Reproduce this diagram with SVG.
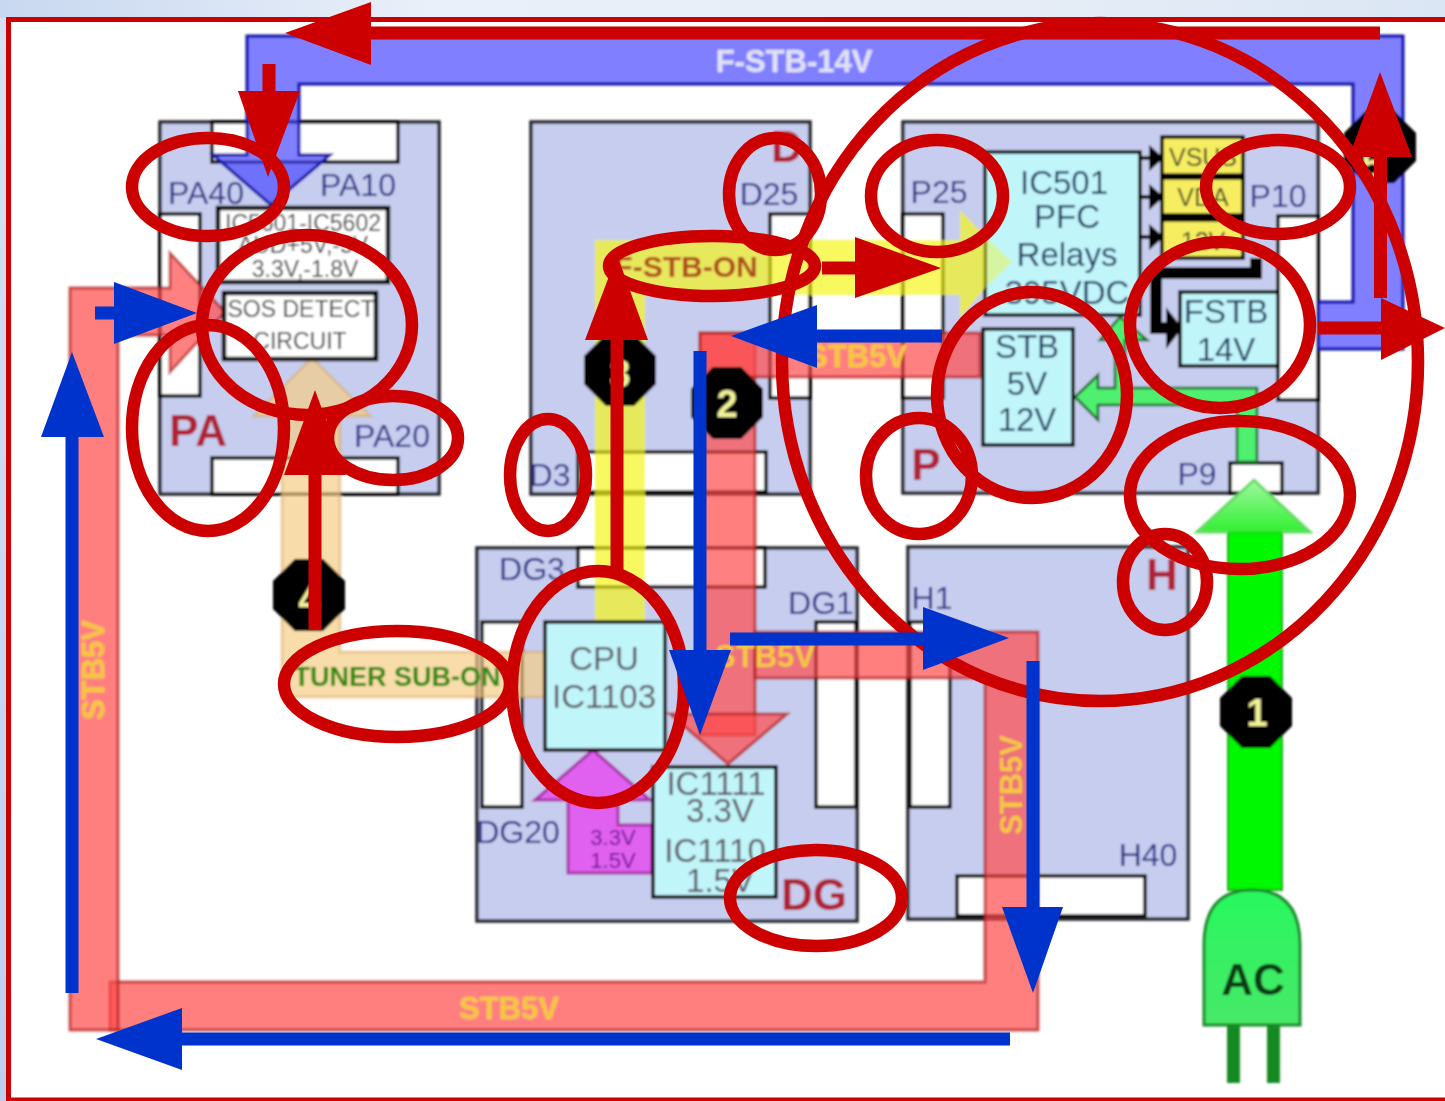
<svg xmlns="http://www.w3.org/2000/svg" width="1445" height="1101" viewBox="0 0 1445 1101">
<defs>
<linearGradient id="sky" x1="0" y1="0" x2="1" y2="0"><stop offset="0" stop-color="#c8d8f0"/><stop offset=".3" stop-color="#eaf0f9"/><stop offset=".7" stop-color="#e6edf7"/><stop offset="1" stop-color="#dbe6f4"/></linearGradient>
<linearGradient id="side" x1="0" y1="0" x2="0" y2="1"><stop offset="0" stop-color="#d6e2f3"/><stop offset="1" stop-color="#bcd0ee"/></linearGradient>
<linearGradient id="headg" x1="0" y1="0" x2="0" y2="1"><stop offset="0" stop-color="#a0f8a0"/><stop offset="1" stop-color="#30f030"/></linearGradient>
<linearGradient id="plug" x1="0" y1="0" x2="0" y2="1"><stop offset="0" stop-color="#28f860"/><stop offset="1" stop-color="#48e868"/></linearGradient>
<filter id="soft" x="-2%" y="-2%" width="104%" height="104%"><feGaussianBlur stdDeviation="0.8"/></filter>
</defs>
<style>
text{font-family:"Liberation Sans",Arial,sans-serif;text-anchor:middle}
.board{fill:#c6cdee;stroke:#26262e;stroke-width:3.5}
.slot{fill:#fff;stroke:#000;stroke-width:3.5}
.ic{fill:#c0f5fa;stroke:#000;stroke-width:3.5}
.wht{fill:#fff;stroke:#000;stroke-width:4.5}
.yc{fill:#f6ee60;stroke:#000;stroke-width:3.5}
.lb{font-size:32px;fill:#2e3288}
.big{font-size:44px;font-weight:700;fill:#b02036}
.t{font-size:33px;fill:#1f3c60}
.g{font-size:33px;fill:#5e5660}
.s{font-size:33px;fill:#5e5660}
.w{font-size:23px;fill:#333}
.flow{fill:#ff4a4a;fill-opacity:.7;stroke:#b02020;stroke-width:3;stroke-opacity:.7}
.fl{font-size:31px;font-weight:700;fill:#f5c840}
.yel{fill:#f5f51c;fill-opacity:.7}
.oct{fill:#000}
.num{font-size:38px;font-weight:700;fill:#f2f29a}
.ell{fill:none;stroke:#cc0000;stroke-width:12.5}
.rl{stroke:#cc0000;fill:none}
.rh{fill:#cc0000}
.bl{stroke:#0033cc;fill:none}
.bh{fill:#0033cc}
</style>
<rect width="1445" height="1101" fill="url(#side)"/>
<rect width="1445" height="18" fill="url(#sky)"/>
<rect x="11" y="22" width="1434" height="1077" fill="#fff"/>
<path d="M1445 19.5H8.5V1100H1445" fill="none" stroke="#cc0000" stroke-width="5"/>

<g id="base" filter="url(#soft)">
<g id="board-PA">
<rect class="board" x="160" y="122" width="279" height="372"/>
<rect class="slot" x="212" y="122" width="186" height="40"/>
<rect class="slot" x="160" y="214" width="40" height="182"/>
<rect class="slot" x="212" y="458" width="186" height="36"/>
</g>
<g id="board-D">
<rect class="board" x="531" y="122" width="279" height="372"/>
<rect class="slot" x="770" y="214" width="40" height="184"/>
<rect class="slot" x="578" y="452" width="188" height="40"/>
</g>
<g id="board-P">
<rect class="board" x="903" y="122" width="415" height="371"/>
<rect class="slot" x="903" y="214" width="40" height="184"/>
<rect class="slot" x="1278" y="216" width="40" height="184"/>
<rect class="slot" x="1230" y="463" width="52" height="30"/>
</g>
<g id="board-DG">
<rect class="board" x="477" y="548" width="380" height="373"/>
<rect class="slot" x="578" y="548" width="187" height="39"/>
<rect class="slot" x="482" y="622" width="40" height="185"/>
<rect class="slot" x="816" y="622" width="40" height="185"/>
</g>
<g id="board-H">
<rect class="board" x="908" y="547" width="280" height="372"/>
<rect class="slot" x="910" y="622" width="40" height="185"/>
<rect class="slot" x="957" y="876" width="188" height="40"/>
</g>
<g id="node-ic501">
<rect class="ic" x="985" y="152" width="155" height="163"/>
<text class="t" x="1064" y="194">IC501</text>
<text class="t" x="1067" y="228">PFC</text>
<text class="t" x="1067" y="266">Relays</text>
<text class="t" x="1067" y="304">395VDC</text>
</g>

<g id="connectors">
<path d="M247 36H1403V349H1318V302H1353V84H299V155H330L271 205L213 155H247Z" fill="#4a4aff" fill-opacity=".7" stroke="#1414a8" stroke-width="3"/>
<path class="yel" d="M595 240H960V210L985 236V288L960 318V295H645V622H595Z"/>
<path d="M985 236L1012 262L985 288Z" fill="#f5f51c" fill-opacity=".4"/>
<path d="M312 358L370 416H340V652H545V697H282V416H254Z" fill="#f5cd86" fill-opacity=".7" stroke="#d8a868" stroke-opacity=".5" stroke-width="3"/>
<path class="flow" d="M700 333H755V735H700Z"/>
<path class="flow" d="M700 333H980V377H700Z"/>
<path class="flow" d="M670 714H787L728 764Z"/>
<path class="flow" d="M755 632H1038V1030H110V982H985V678H755Z"/>
<path class="flow" d="M70 288H170V253L225 312L170 372V335H118V1030H70Z"/>
<path d="M568 800H535L593 750L650 800H618V825H652V873H568Z" fill="#e060f0" stroke="#a838a8" stroke-width="3"/>
<path d="M1228 890V532H1282V890Z" fill="#00f800" stroke="#14b414" stroke-width="2"/>
<path d="M1228 532H1197L1254 480L1310 532H1282" fill="url(#headg)" stroke="#64dc64" stroke-width="3"/>
<path d="M1237 462V405H1098V420L1075 397L1098 375V388H1115V340H1100L1120 317L1147 340H1125V388H1257V462Z" fill="#50f070" stroke="#1a6a2a" stroke-width="2.5"/>
<path d="M1204 1025V945Q1204 890 1252 890Q1300 890 1300 945V1025Z" fill="url(#plug)" stroke="#1d8a2a" stroke-width="3"/>
<path d="M1233.5 1025V1083M1273.5 1025V1083" stroke="#158a22" stroke-width="13" fill="none"/>
<path d="M1256 258V273H1156V328H1170" stroke="#000" stroke-width="12" fill="none"/>
<path d="M1167 310L1181 328L1167 346Z" fill="#000" stroke="#000" stroke-width="2"/>
<path d="M1140 158H1156M1140 197H1156M1140 237H1156" stroke="#000" stroke-width="4"/>
<path d="M1150 147V169L1162 158ZM1150 186V208L1162 197ZM1150 226V248L1162 237Z" fill="#000" stroke="#000" stroke-width="2"/>
</g>

<g id="node-ic5601">
<rect class="wht" x="218" y="208" width="170" height="74"/>
<text class="w" x="303" y="231">IC5601-IC5602</text>
<text class="w" x="303" y="253">AUD+5V,-5V</text>
<text class="w" x="305" y="277">3.3V,-1.8V</text>
</g>
<g id="node-sos">
<rect class="wht" x="224" y="293" width="152" height="66"/>
<text class="w" x="301" y="317">SOS DETECT</text>
<text class="w" x="300" y="349">CIRCUIT</text>
</g>
<g id="node-rails">
<rect x="1160" y="135" width="85" height="125" fill="#000"/>
<rect class="yc" x="1162" y="137" width="81" height="38"/>
<rect class="yc" x="1162" y="178" width="81" height="37"/>
<rect class="yc" x="1162" y="220" width="81" height="38"/>
<text x="1203" y="166" font-size="25" fill="#44442c">VSUS</text>
<text x="1203" y="206" font-size="25" fill="#44442c">VDA</text>
<text x="1203" y="250" font-size="25" fill="#44442c">12V</text>
</g>
<g id="node-fstb">
<rect class="ic" x="1180" y="292" width="98" height="74"/>
<text class="t" x="1226" y="323">FSTB</text>
<text class="t" x="1226" y="361">14V</text>
</g>
<g id="node-stb">
<rect class="ic" x="983" y="329" width="90" height="116"/>
<text class="t" x="1027" y="358">STB</text>
<text class="t" x="1027" y="395">5V</text>
<text class="t" x="1027" y="431">12V</text>
</g>
<g id="node-cpu">
<rect class="ic" x="545" y="622" width="120" height="128"/>
<text class="g" x="604" y="670">CPU</text>
<text class="g" x="604" y="708">IC1103</text>
</g>
<g id="node-ic1111">
<rect class="ic" x="653" y="767" width="123" height="130"/>
<text class="s" x="716" y="795">IC1111</text>
<text class="s" x="720" y="822">3.3V</text>
<text class="s" x="715" y="862">IC1110</text>
<text class="s" x="720" y="892">1.5V</text>
</g>

<g id="labels">
<text class="lb" x="206" y="204">PA40</text>
<text class="lb" x="358" y="196">PA10</text>
<text class="lb" x="392" y="447">PA20</text>
<text class="big" x="198" y="446">PA</text>
<text class="lb" x="769" y="205">D25</text>
<text class="big" x="787" y="162">D</text>
<text class="lb" x="550" y="486" font-size="30">D3</text>
<text class="lb" x="939" y="203">P25</text>
<text class="lb" x="1278" y="207">P10</text>
<text class="lb" x="1197" y="485" font-size="30">P9</text>
<text class="big" x="926" y="480">P</text>
<text class="lb" x="532" y="580">DG3</text>
<text class="lb" x="821" y="614">DG1</text>
<text class="lb" x="518" y="843">DG20</text>
<text class="big" x="814" y="910">DG</text>
<text class="lb" x="932" y="609">H1</text>
<text class="lb" x="1148" y="866" font-size="30">H40</text>
<text class="big" x="1162" y="590">H</text>
<text x="794" y="72" font-size="31" font-weight="700" fill="#e2e2f4">F-STB-14V</text>
<text x="686" y="277" font-size="30" font-weight="700" fill="#b0481c">F-STB-ON</text>
<text class="fl" x="857" y="367">STB5V</text>
<text class="fl" x="765" y="667">STB5V</text>
<text class="fl" x="509" y="1019">STB5V</text>
<text class="fl" transform="translate(104 670) rotate(-90)">STB5V</text>
<text class="fl" transform="translate(1022 785) rotate(-90)">STB5V</text>
<text x="397" y="686" font-size="27" font-weight="700" fill="#2e8a10">TUNER SUB-ON</text>
<text x="613" y="845" font-size="22" fill="#701090">3.3V</text>
<text x="613" y="868" font-size="22" fill="#701090">1.5V</text>
<text x="1253" y="995" font-size="44" font-weight="700" fill="#0b3b12">AC</text>
</g>

<g id="markers">
<path class="oct" d="M1242 676H1270L1292 698V726L1270 748H1242L1220 726V698Z"/><text class="num" x="1257" y="726">1</text>
<path class="oct" d="M713 367H741L763 389V417L741 439H713L691 417V389Z"/><text class="num" x="727" y="417">2</text>
<path class="oct" d="M606 334H634L656 356V384L634 406H606L584 384V356Z"/><text class="num" x="620" y="387">3</text>
<path class="oct" d="M295 559H323L345 581V609L323 631H295L273 609V581Z"/><text class="num" x="309" y="612">4</text>
<path class="oct" d="M1366 111H1394L1416 133V161L1394 183H1366L1344 161V133Z"/><text class="num" x="1372" y="178">5</text>
</g>
</g>

<g id="callouts">
<ellipse class="ell" cx="1100" cy="362" rx="318" ry="339"/>
<ellipse class="ell" cx="208" cy="187" rx="76" ry="49"/>
<ellipse class="ell" cx="307" cy="325" rx="105" ry="90"/>
<ellipse class="ell" cx="208" cy="428" rx="76" ry="103"/>
<ellipse class="ell" cx="393" cy="438" rx="65" ry="42"/>
<ellipse class="ell" cx="775" cy="194" rx="46" ry="56"/>
<ellipse class="ell" cx="712" cy="266" rx="103" ry="30"/>
<ellipse class="ell" cx="937" cy="196" rx="66" ry="56"/>
<ellipse class="ell" cx="1278" cy="187" rx="72" ry="47"/>
<ellipse class="ell" cx="1220" cy="325" rx="90" ry="83"/>
<ellipse class="ell" cx="1032" cy="395" rx="95" ry="103"/>
<ellipse class="ell" cx="919" cy="476" rx="53" ry="58"/>
<ellipse class="ell" cx="1240" cy="495" rx="110" ry="74"/>
<ellipse class="ell" cx="1165" cy="582" rx="42" ry="48"/>
<ellipse class="ell" cx="548" cy="475" rx="38" ry="56"/>
<ellipse class="ell" cx="598" cy="687" rx="86" ry="116"/>
<ellipse class="ell" cx="397" cy="684" rx="113" ry="53"/>
<ellipse class="ell" cx="816" cy="898" rx="86" ry="48"/>
</g>

<g id="arrows">
<path class="rl" stroke-width="13" d="M1380 33H360M269 64V100M1380.5 298V150M1318 328H1390M822 268H862M617 570V335M315 630V470"/>
<path class="rh" d="M371 2V65L285 33ZM238 91H300L268 177ZM1380 72L1412 157H1349ZM1381 298V360L1445 328ZM855 237V298L941 268ZM617 255L648 340H585ZM315 390L346 475H284Z"/>
<path class="bl" stroke-width="13" d="M95 313H125M72 993V430M1010 1039H175M1033 661V915M730 639H930M700 351V655M942 336H810"/>
<path class="bh" d="M114 282V344L197 313ZM72 352L104 437H41ZM96 1039L182 1008V1070ZM1002 907H1063L1033 993ZM923 607V670L1009 638ZM669 650H731L700 735ZM731 336L817 305V368Z"/>
</g>
</svg>
